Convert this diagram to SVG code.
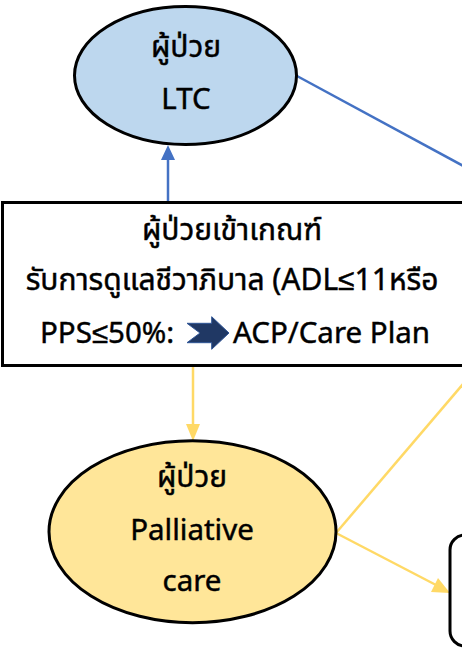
<svg xmlns="http://www.w3.org/2000/svg" width="462" height="648" viewBox="0 0 462 648">
<style>
text{font-family:"Noto Sans Thai","Noto Sans","Leelawadee UI",sans-serif;font-size:29.5px;fill:#000;stroke:#000;stroke-width:0.45;text-anchor:middle}
.th{font-size:30px}
.node{stroke:#000;stroke-width:3}
.blue{stroke:#4472C4;stroke-width:2.5;fill:none}
.yel{stroke:#FFD966;stroke-width:2.5;fill:none}
</style>
<g id="connectors">
<line class="blue" x1="168" y1="201" x2="168" y2="160"/>
<path d="M168,145 L175,160 L161,160 z" fill="#4472C4"/>
<line class="blue" x1="297" y1="76" x2="480" y2="175"/>
<line class="yel" x1="193" y1="367" x2="193" y2="425"/>
<path d="M193,441 L200,424 L186,424 z" fill="#FFD966"/>
<line class="yel" x1="336" y1="533" x2="475" y2="370"/>
<line class="yel" x1="336" y1="533" x2="436" y2="585"/>
<path d="M450,593 L431,592 L438,578 z" fill="#FFD966"/>
</g>
<g id="ltc">
<ellipse class="node" cx="185.5" cy="75.5" rx="111" ry="69" fill="#BDD7EE"/>
<text class="th" x="186" y="57">ผู้ป่วย</text>
<text x="186" y="109">LTC</text>
</g>
<g id="criteria">
<rect class="node" x="2.5" y="202.5" width="480" height="163" fill="#FFFFFF"/>
<text class="th" x="232" y="240">ผู้ป่วยเข้าเกณฑ์</text>
<text class="th" x="232" y="290">รับการดูแลชีวาภิบาล (ADL≤11หรือ</text>
<text x="40" y="343" style="text-anchor:start">PPS≤50%:</text>
<path d="M187,323.3 L211.7,323.3 L211.7,316.7 L229,333 L211.7,349.3 L211.7,342.7 L187,342.7 L200,333 z" fill="#203864" stroke="#2F5597" stroke-width="1"/>
<text x="233" y="343" style="text-anchor:start">ACP/Care Plan</text>
</g>
<g id="palliative">
<ellipse class="node" cx="192.5" cy="531.7" rx="143.5" ry="91" fill="#FFE699"/>
<text class="th" x="192" y="487">ผู้ป่วย</text>
<text x="192" y="540">Palliative</text>
<text x="192" y="591">care</text>
</g>
<g id="next">
<rect class="node" x="450" y="535" width="60" height="111" rx="15" fill="#FFFFFF"/>
</g>
</svg>
